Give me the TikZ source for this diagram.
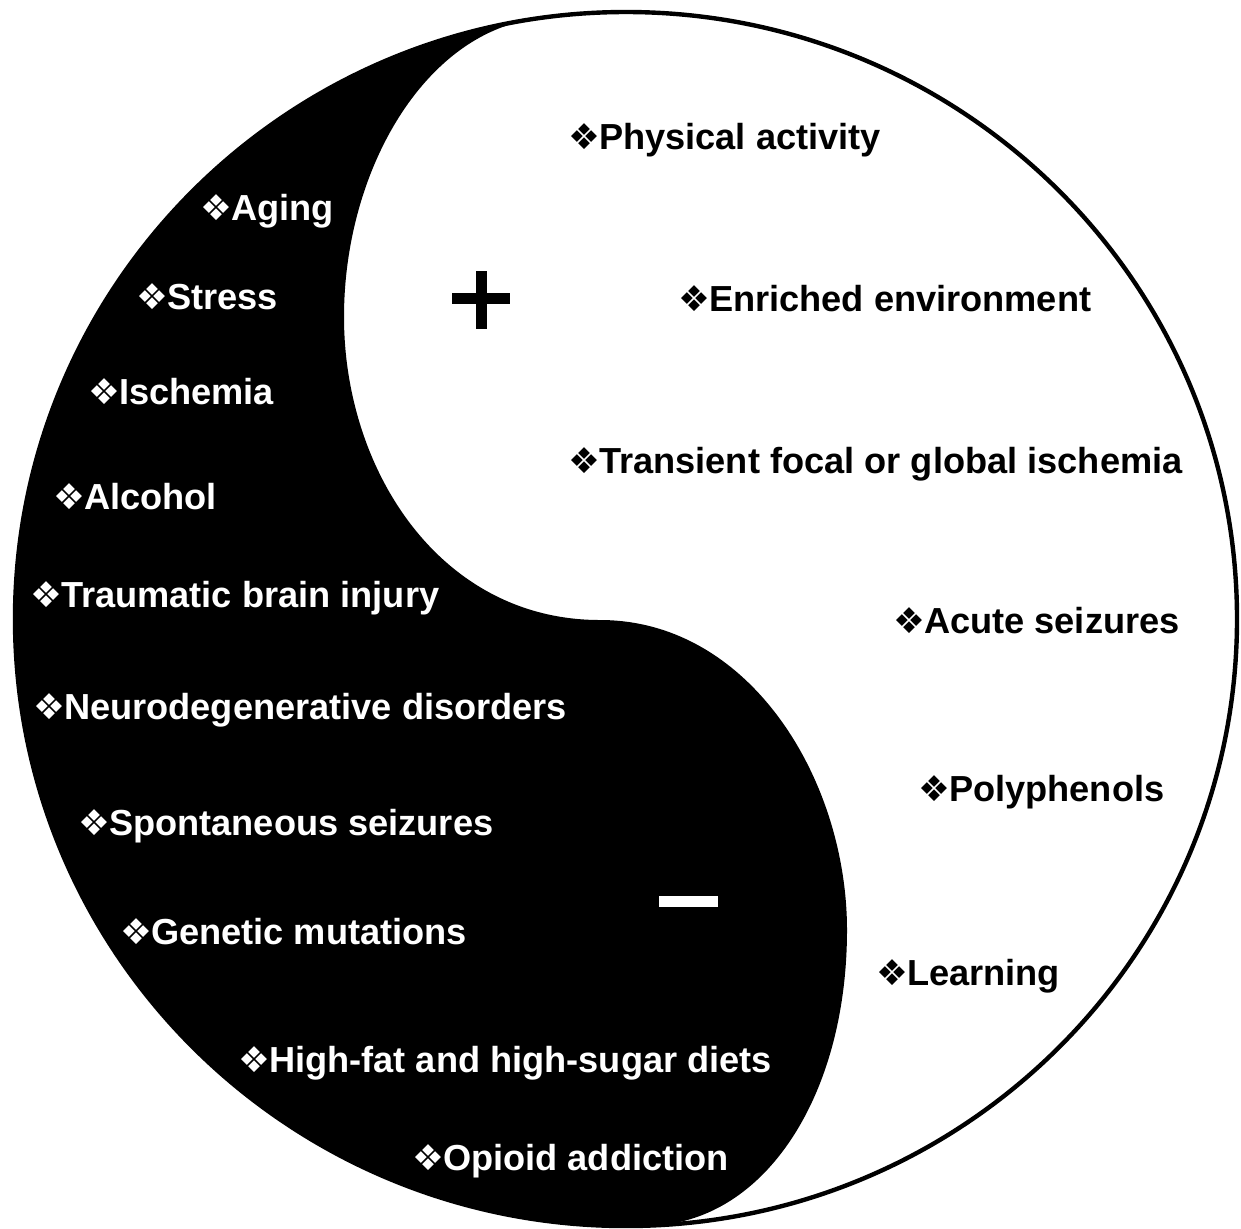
\documentclass[tikz,border=0pt]{standalone}
\usepackage{fontspec}
\setmainfont{Liberation Sans}
\newfontfamily\dingfont{DejaVu Sans}
\usepackage{tikz}
\usepackage{xcolor}
\newcommand{\bul}{{\dingfont\fontsize{17.8}{18}\selectfont ❖}\kern-0.6pt}
\tikzset{
    item/.style={anchor=base west, inner sep=0pt, font=\bfseries\fontsize{18.1}{21}\selectfont},
    negitem/.style={item, text=white},
    positem/.style={item, text=black},
    ring/.style={draw=black, line width=2.2pt}
}

\begin{document}
\begin{tikzpicture}[x=0.5pt, y=-0.5pt]
    % Define the outer circle and the S-shaped border
    \def\outerring{(626,619) ellipse (611 and 607)}
    \def\sline{(528,20) .. controls (420,40) and (344,175) .. (344,317)
        .. controls (344,470) and (440,620) .. (600,620)
        .. controls (750,620) and (847,780) .. (847,930)
        .. controls (847,1090) and (770,1215) .. (660,1225)}

    \useasboundingbox (0,0) rectangle (1241,1228);

    % Fill the dark half
    \begin{scope}
        \clip \outerring;
        \fill[black] \sline -- (660,1300) -- (-100,1300) -- (-100,-100) -- (528,-100) -- cycle;
    \end{scope}
    \draw[ring] \outerring;

    % Plus and minus signs
    \fill[black] (452,293) rectangle (510,304);
    \fill[black] (476,271) rectangle (487,329);
    \fill[white] (659,896) rectangle (718,907);

    % Negative factors
    \node[negitem] (aging)    at (200,220)  {\bul Aging};
    \node[negitem] (stress)   at (136,309)  {\bul Stress};
    \node[negitem] (ischemia) at (88,404)   {\bul Ischemia};
    \node[negitem] (alcohol)  at (53,509)   {\bul Alcohol};
    \node[negitem] (tbi)      at (30,607)   {\bul Traumatic brain injury};
    \node[negitem] (neuro)    at (33,719)   {\bul Neurodegenerative disorders};
    \node[negitem] (spont)    at (78,835)   {\bul Spontaneous seizures};
    \node[negitem] (genetic)  at (120,944)  {\bul Genetic mutations};
    \node[negitem] (diet)     at (238,1072) {\bul High-fat and high-sugar diets};
    \node[negitem] (opioid)   at (412,1170) {\bul Opioid addiction};

    % Positive factors
    \node[positem] (physical)  at (568,149) {\bul Physical activity};
    \node[positem] (enriched)  at (678,311) {\bul Enriched environment};
    \node[positem] (transient) at (568,473) {\bul Transient focal or global ischemia};
    \node[positem] (acute)     at (893,633) {\bul Acute seizures};
    \node[positem] (poly)      at (918,801) {\bul Polyphenols};
    \node[positem] (learning)  at (876,985) {\bul Learning};
\end{tikzpicture}
\end{document}
